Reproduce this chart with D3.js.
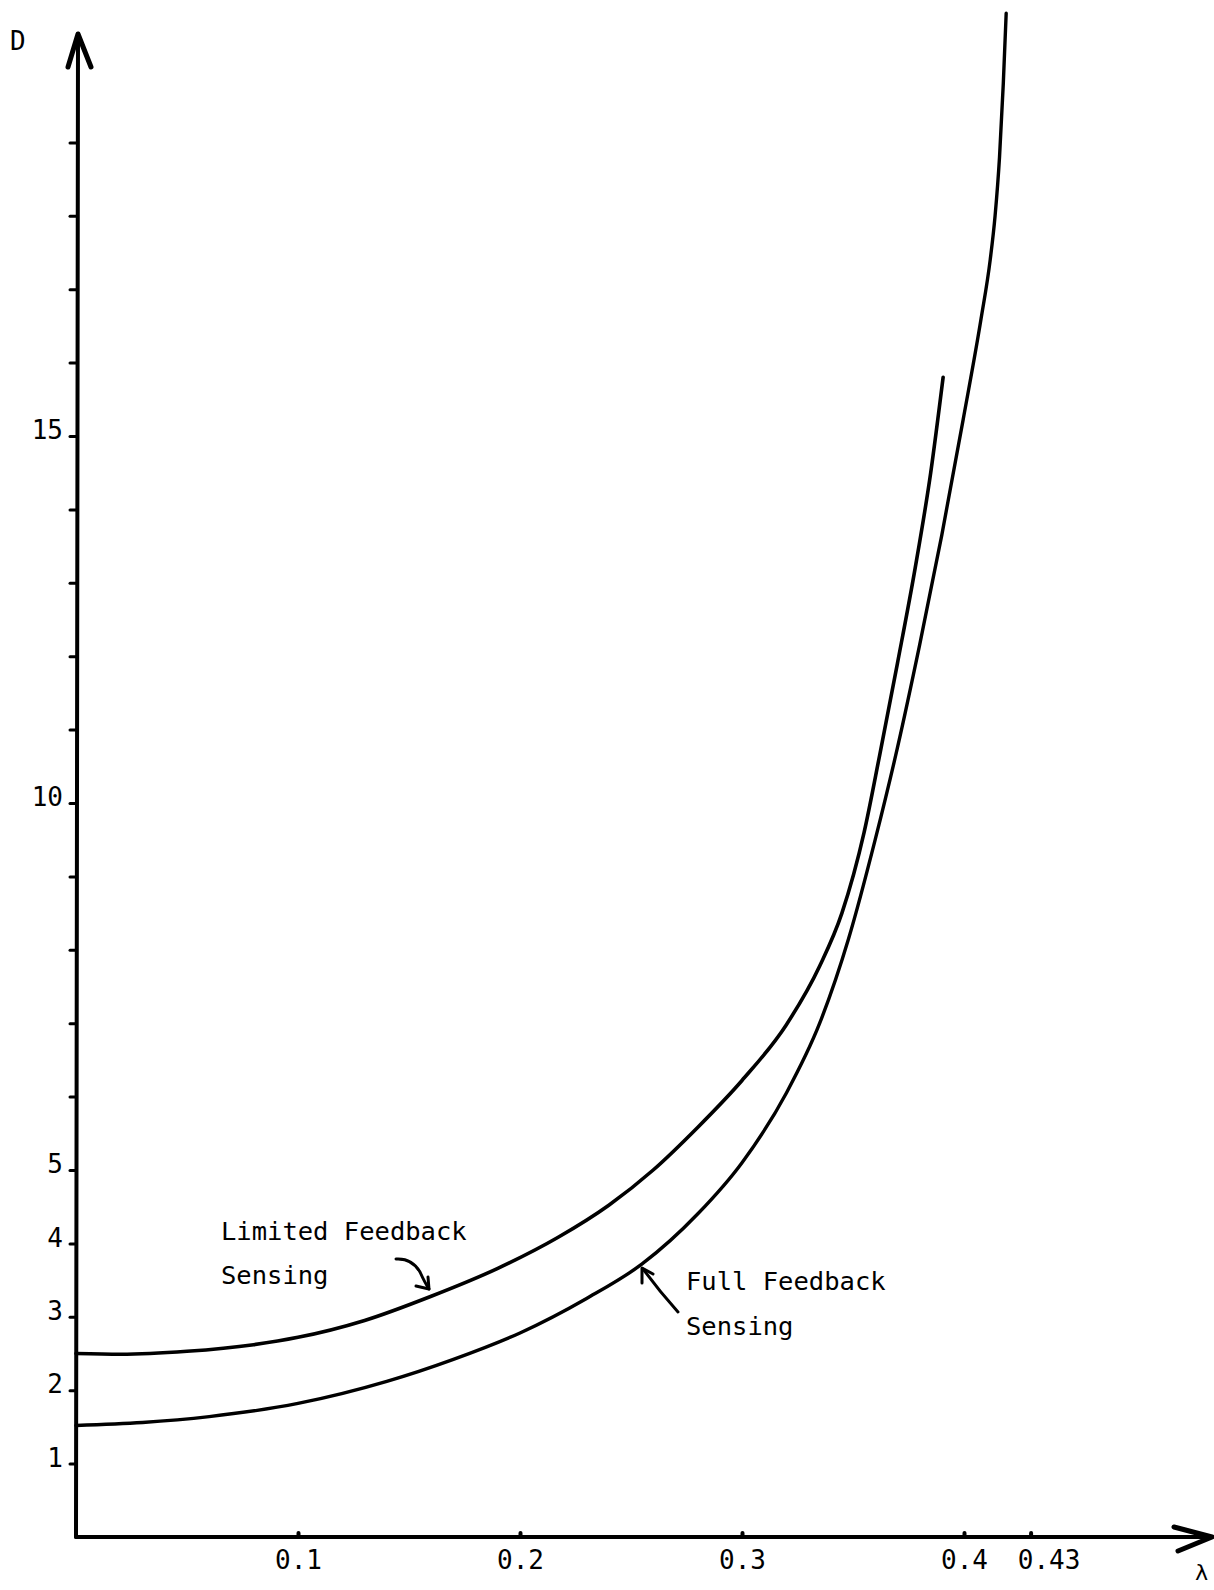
<!DOCTYPE html>
<html>
<head>
<meta charset="utf-8">
<script src="https://cdn.jsdelivr.net/npm/d3@7"></script>
<style>
  html, body { margin: 0; padding: 0; background: #fff; }
  svg { display: block; }
  text { font-family: "DejaVu Sans Mono", monospace; fill: #000; }
</style>
</head>
<body>
<div id="chart"></div>
<script>
// ---- data ----
const limitedLambda = [0, 0.02, 0.05, 0.08, 0.10, 0.13, 0.16, 0.19, 0.217, 0.24, 0.26, 0.28, 0.30, 0.32, 0.335, 0.345, 0.355, 0.362, 0.37, 0.378, 0.385, 0.3906];
const limitedD      = [2.50, 2.49, 2.53, 2.62, 2.72, 2.95, 3.28, 3.66, 4.08, 4.52, 5.00, 5.58, 6.22, 6.98, 7.78, 8.50, 9.60, 10.65, 11.90, 13.20, 14.50, 15.80];
const fullLambda = [0, 0.03, 0.06, 0.10, 0.14, 0.17, 0.20, 0.23, 0.255, 0.28, 0.30, 0.32, 0.335, 0.348, 0.36, 0.37, 0.38, 0.39, 0.3996, 0.4077, 0.4118, 0.414, 0.416, 0.4177, 0.419];
const fullD      = [1.52, 1.56, 1.64, 1.82, 2.12, 2.42, 2.78, 3.25, 3.72, 4.40, 5.10, 6.05, 7.00, 8.15, 9.50, 10.75, 12.15, 13.65, 15.22, 16.60, 17.40, 18.00, 18.80, 19.80, 20.76];
const xTickValues = [0.1, 0.2, 0.3, 0.4, 0.43];
const xTickLabels = ["0.1", "0.2", "0.3", "0.4", "0.43"];
const yTickValues = d3.range(1, 20);
const yTickLabels = {1: "1", 2: "2", 3: "3", 4: "4", 5: "5", 10: "10", 15: "15"};
const seriesNames = ["Limited Feedback", "Full Feedback"];
const xAxisTitle = "λ";
const yAxisTitle = "D";

// ---- layout ----
const W = 1214, H = 1590;
const x0 = 76, y0 = 1537;
const x = d3.scaleLinear().domain([0, 0.5]).range([x0, x0 + 1110]);
const y = d3.scaleLinear().domain([0, 20]).range([y0, y0 - 1468]);

const svg = d3.select("#chart").append("svg").attr("width", W).attr("height", H);

// axes lines
const axisG = svg.append("g").attr("stroke", "#000").attr("fill", "none")
  .attr("stroke-linecap", "round").attr("stroke-linejoin", "round");
axisG.append("line").attr("x1", x0).attr("y1", y0).attr("x2", x0 + 2).attr("y2", 34).attr("stroke-width", 4);
axisG.append("line").attr("x1", x0).attr("y1", y0).attr("x2", 1212).attr("y2", y0).attr("stroke-width", 4);
// arrowheads
axisG.append("path").attr("d", `M68,67 L78,34 L91,67`).attr("stroke-width", 5);
axisG.append("path").attr("d", `M1174,1527 L1212,1537 L1178,1551`).attr("stroke-width", 5);

// y ticks (left side, small)
const yAxis = d3.axisLeft(y).tickValues(yTickValues).tickSize(6).tickPadding(7)
  .tickFormat(d => yTickLabels[d] || "");
const yg = svg.append("g").attr("transform", `translate(${x0},0)`).call(yAxis);
yg.select(".domain").remove();
yg.selectAll(".tick line").attr("stroke", "#000").attr("stroke-width", 3).attr("stroke-linecap", "round");
yg.selectAll(".tick text").attr("font-size", 26).attr("font-family", "DejaVu Sans Mono").attr("dy", "0.1em");

// x ticks (small bumps above axis)
const xAxis = d3.axisBottom(x).tickValues(xTickValues).tickSize(-4).tickPadding(14)
  .tickFormat((d, i) => xTickLabels[i]);
const xg = svg.append("g").attr("transform", `translate(0,${y0})`).call(xAxis);
xg.select(".domain").remove();
xg.selectAll(".tick line").attr("stroke", "#000").attr("stroke-width", 4).attr("stroke-linecap", "round");
xg.selectAll(".tick text").attr("font-size", 26).attr("font-family", "DejaVu Sans Mono")
  .attr("dx", (d, i) => xTickLabels[i] === "0.43" ? 18 : 0);

// axis titles
svg.append("text").attr("x", 10).attr("y", 50).attr("font-size", 26).text(yAxisTitle);
svg.append("text").attr("x", 1195).attr("y", 1580).attr("font-size", 22).text(xAxisTitle);

// curves
const line = d3.line().x(d => x(d[0])).y(d => y(d[1])).curve(d3.curveMonotoneX);
const limited = limitedLambda.map((l, i) => [l, limitedD[i]]);
const full = fullLambda.map((l, i) => [l, fullD[i]]);
svg.append("path").datum(limited).attr("d", line).attr("fill", "none").attr("stroke", "#000")
  .attr("stroke-width", 3.6).attr("stroke-linecap", "round");
svg.append("path").datum(full).attr("d", line).attr("fill", "none").attr("stroke", "#000")
  .attr("stroke-width", 3.4).attr("stroke-linecap", "round");

// annotations
svg.append("text").attr("x", 221).attr("y", 1240).attr("font-size", 25.5).text(seriesNames[0]);
svg.append("text").attr("x", 221).attr("y", 1284).attr("font-size", 25.5).text("Sensing");
svg.append("text").attr("x", 686).attr("y", 1290).attr("font-size", 25.5).text(seriesNames[1]);
svg.append("text").attr("x", 686).attr("y", 1335).attr("font-size", 25.5).text("Sensing");

const ann = svg.append("g").attr("fill", "none").attr("stroke", "#000").attr("stroke-width", 3)
  .attr("stroke-linecap", "round").attr("stroke-linejoin", "round");
ann.append("path").attr("d", "M396,1259 Q412,1258 420,1272 Q425,1283 429,1289");
ann.append("path").attr("d", "M416,1286 L429,1289 L428,1277");
ann.append("path").attr("d", "M678,1312 Q660,1292 643,1269");
ann.append("path").attr("d", "M642,1283 L642,1268 L653,1274");
</script>
</body>
</html>
